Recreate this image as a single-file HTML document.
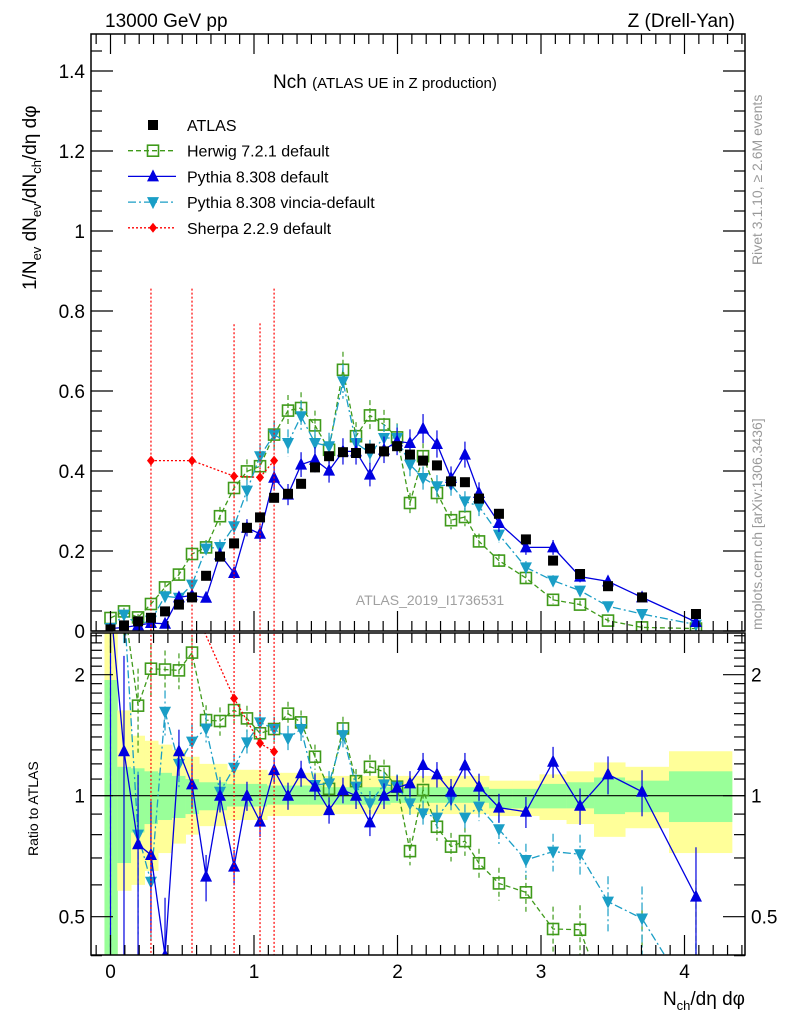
<!DOCTYPE html>
<html><head><meta charset="utf-8"><style>
html,body{margin:0;padding:0;background:#fff;width:786px;height:1024px;overflow:hidden;}
svg{display:block;font-family:"Liberation Sans",sans-serif;}
</style></head><body>
<svg id="chart" width="786" height="1024" viewBox="0 0 786 1024" xmlns="http://www.w3.org/2000/svg">
<defs>
<clipPath id="clipMain"><rect x="91" y="34" width="654" height="597"/></clipPath>
<clipPath id="clipRatio"><rect x="91" y="633" width="654" height="322"/></clipPath>
</defs>
<rect x="0" y="0" width="786" height="1024" fill="#fff"/>
<g id="ratioBands" clip-path="url(#clipRatio)"></g>
<g id="mainLayer" clip-path="url(#clipMain)"></g>
<g id="ratioLayer" clip-path="url(#clipRatio)"></g>
<g id="axes"></g>
<text x="105" y="27" font-size="19">13000 GeV pp</text>
<text x="735" y="27" font-size="19" text-anchor="end">Z (Drell-Yan)</text>
<text x="273" y="88" font-size="19">Nch <tspan font-size="15">(ATLAS UE in Z production)</tspan></text>
<text x="430" y="605" font-size="14" fill="#a0a0a0" text-anchor="middle">ATLAS_2019_I1736531</text>
<text transform="translate(762,265) rotate(-90)" font-size="14" fill="#999">Rivet 3.1.10, ≥ 2.6M events</text>
<text transform="translate(762,630) rotate(-90)" font-size="14" fill="#999">mcplots.cern.ch [arXiv:1306.3436]</text>
<text transform="translate(36,290) rotate(-90)" font-size="19">1/N<tspan font-size="13" dy="5">ev</tspan><tspan dy="-5"> dN</tspan><tspan font-size="13" dy="5">ev</tspan><tspan dy="-5">/dN</tspan><tspan font-size="13" dy="5">ch</tspan><tspan dy="-5">/dη dφ</tspan></text>
<text transform="translate(38,856) rotate(-90)" font-size="14">Ratio to ATLAS</text>
<text x="745" y="1005" font-size="19" text-anchor="end">N<tspan font-size="13" dy="5">ch</tspan><tspan dy="-5">/dη dφ</tspan></text>
<g id="legend"></g>
</svg>
<script>
// ---- data ----
var xVals = [0.0,0.094,0.192,0.282,0.38,0.477,0.568,0.666,0.763,0.861,0.951,1.042,1.14,1.237,1.328,1.425,1.523,1.62,1.711,1.808,1.906,1.997,2.087,2.178,2.275,2.373,2.47,2.568,2.707,2.895,3.084,3.272,3.467,3.704,4.08];
var atlasVals = [0.004,0.014,0.024,0.033,0.049,0.066,0.084,0.138,0.186,0.219,0.258,0.284,0.333,0.343,0.368,0.409,0.437,0.447,0.445,0.456,0.449,0.462,0.441,0.426,0.414,0.374,0.372,0.331,0.293,0.229,0.176,0.1425,0.112,0.084,0.0425];
var herwigVals = [0.0325,0.049,0.034,0.0675,0.109,0.141,0.1925,0.209,0.287,0.3575,0.399,0.412,0.491,0.551,0.5575,0.514,0.453,0.653,0.487,0.539,0.516,0.484,0.32,0.437,0.345,0.277,0.285,0.224,0.176,0.1325,0.078,0.066,0.026,0.009,0.006];
var pythiaVals = [0.006,0.009,0.014,0.02,0.018,0.084,0.089,0.083,0.191,0.145,0.258,0.243,0.383,0.341,0.416,0.428,0.401,0.449,0.449,0.391,0.453,0.474,0.47,0.506,0.4675,0.3825,0.441,0.345,0.27,0.209,0.209,0.136,0.124,0.084,0.0225];
var vinciaVals = [0.0075,0.041,0.016,0.026,0.087,0.083,0.116,0.206,0.21,0.262,0.351,0.437,0.491,0.47,0.537,0.47,0.462,0.624,0.47,0.445,0.4825,0.4825,0.416,0.3825,0.362,0.366,0.324,0.312,0.241,0.159,0.126,0.101,0.062,0.0425,0.016];
var sherpaX = [0.282,0.568,0.861,1.042,1.14];
var sherpaVals = [0.426,0.426,0.387,0.384,0.426];
var sherpaErrUp = [0.43,0.43,0.38,0.385,0.43];
var herwigRatio = [3,3,1.675,2.07,2.06,2.05,2.27,1.542,1.534,1.633,1.557,1.43,1.465,1.6,1.522,1.25,1.04,1.47,1.087,1.18,1.147,1.053,0.728,1.033,0.837,0.747,0.771,0.679,0.605,0.575,0.466,0.464,0.3,0.3,0.3];
var pythiaRatio = [3,1.29,0.757,0.712,0.4,1.29,1.067,0.629,1.0,0.666,1.0,0.862,1.158,1.0,1.137,1.053,0.921,1.033,1.0,0.858,1.0,1.047,1.073,1.192,1.13,1.023,1.19,1.053,0.934,0.912,1.215,0.944,1.13,1.023,0.561];
var vinciaRatio = [3,3,0.8,0.611,1.618,1.2,1.363,1.47,1.023,1.174,1.357,1.522,1.465,1.389,1.465,1.063,1.073,1.415,1.053,0.957,1.067,1.053,0.957,0.904,0.882,0.981,0.882,0.939,0.825,0.692,0.726,0.715,0.545,0.495,0.3];
var sherpaRatio = [3,3,1.746,1.35,1.287];
var bandYhi = [3,1.63,1.41,1.37,1.34,1.3,1.25,1.2,1.2,1.16,1.16,1.16,1.14,1.14,1.14,1.14,1.12,1.12,1.12,1.12,1.12,1.12,1.12,1.12,1.12,1.12,1.12,1.12,1.09,1.09,1.13,1.15,1.21,1.18,1.29];
var bandYlo = [0.3,0.58,0.6,0.65,0.72,0.76,0.8,0.84,0.84,0.87,0.87,0.87,0.89,0.89,0.89,0.89,0.9,0.9,0.9,0.9,0.9,0.9,0.9,0.9,0.9,0.9,0.9,0.9,0.89,0.89,0.87,0.85,0.79,0.83,0.72];
var bandGhi = [1.94,1.18,1.17,1.15,1.14,1.12,1.1,1.08,1.08,1.07,1.07,1.07,1.06,1.06,1.06,1.06,1.05,1.05,1.05,1.05,1.05,1.05,1.05,1.05,1.05,1.05,1.05,1.05,1.04,1.04,1.07,1.08,1.11,1.09,1.15];
var bandGlo = [0.3,0.68,0.81,0.85,0.87,0.88,0.9,0.92,0.92,0.94,0.94,0.94,0.95,0.95,0.95,0.95,0.95,0.95,0.95,0.95,0.95,0.96,0.96,0.96,0.96,0.96,0.96,0.96,0.93,0.93,0.93,0.93,0.9,0.91,0.86];
var errAbs = 0.006, errRel = 0.06;
var yTicks = [0,0.2,0.4,0.6,0.8,1,1.2,1.4];
var yTickLabels = ["0","0.2","0.4","0.6","0.8","1","1.2","1.4"];
var xTicks = [0,1,2,3,4];
var xTickLabels = ["0","1","2","3","4"];
var rTicks = [0.5,1,2];
var rTickLabels = ["0.5","1","2"];

// ---- scales ----
var L=91, R=745, MT=34, MB=631, RT=633, RB=955;
function X(v){return 110.5+143.5*v;}
function Y(v){return 631-400*v;}
function RY(r){return 795.7-121*Math.log2(r);}
var NS="http://www.w3.org/2000/svg";
function mk(tag,attrs,parent){var e=document.createElementNS(NS,tag);for(var k in attrs)e.setAttribute(k,attrs[k]);parent.appendChild(e);return e;}
var mainL=document.getElementById('mainLayer'), ratL=document.getElementById('ratioLayer'), bandL=document.getElementById('ratioBands'), axes=document.getElementById('axes'), leg=document.getElementById('legend');

function edges(i){var lo=i==0?-0.042:(xVals[i-1]+xVals[i])/2;var hi=i==xVals.length-1?4.33:(xVals[i]+xVals[i+1])/2;return [lo,hi];}
for(var i=0;i<xVals.length;i++){var e=edges(i);
 var y1=mk('rect',{x:X(e[0]),y:RY(bandYhi[i]),width:X(e[1])-X(e[0])+0.5,height:RY(bandYlo[i])-RY(bandYhi[i]),fill:'#ffff99'},bandL);
 
 
 var g1=mk('rect',{x:X(e[0]),y:RY(bandGhi[i]),width:X(e[1])-X(e[0])+0.5,height:RY(bandGlo[i])-RY(bandGhi[i]),fill:'#99ff99'},bandL);
 
 
}
var ref=mk('line',{x1:L,x2:R,y1:RY(1),y2:RY(1),stroke:'#000','stroke-width':1.2},bandL);



function marker(type,cx,cy,color,parent){
 var m;
 if(type=='sq') m=mk('rect',{x:cx-5,y:cy-5,width:10,height:10,fill:'#000'},parent);
 else if(type=='osq') m=mk('rect',{x:cx-5.5,y:cy-5.5,width:11,height:11,fill:'none',stroke:color,'stroke-width':1.6},parent);
 else if(type=='up') m=mk('polygon',{points:(cx-6)+','+(cy+5)+' '+(cx+6)+','+(cy+5)+' '+cx+','+(cy-7),fill:color},parent);
 else if(type=='down') m=mk('polygon',{points:(cx-6)+','+(cy-5)+' '+(cx+6)+','+(cy-5)+' '+cx+','+(cy+7),fill:color},parent);
 else m=mk('polygon',{points:cx+','+(cy-5)+' '+(cx+4)+','+cy+' '+cx+','+(cy+5)+' '+(cx-4)+','+cy,fill:color},parent);
 return m;
}
function series(name,xs,vals,color,dash,type,errUp,ratio){
 var pts=xs.map(function(x,i){return X(x)+','+Y(vals[i]);}).join(' ');
 var pl=mk('polyline',{points:pts,fill:'none',stroke:color,'stroke-width':1.3,'stroke-dasharray':dash},mainL);
 
 
 for(var i=0;i<xs.length;i++){
  var cx=X(xs[i]),cy=Y(vals[i]);
  var eu=errUp?errUp[i]:errAbs+errRel*vals[i];
  var ed=errUp?vals[i]:eu;
  var eb=mk('line',{x1:cx,x2:cx,y1:Y(vals[i]+eu),y2:Y(Math.max(0,vals[i]-ed)),stroke:color,'stroke-width':1.2,'stroke-dasharray':dash},mainL);
  
  
  var m=marker(type,cx,cy,color,mainL);
  
  
 }
 var rp=xs.map(function(x,i){return X(x)+','+RY(ratio[i]);}).join(' ');
 var rl=mk('polyline',{points:rp,fill:'none',stroke:color,'stroke-width':1.3,'stroke-dasharray':dash},ratL);
 
 
 for(var i=0;i<xs.length;i++){
  var cx=X(xs[i]),r=ratio[i];
  var eu=errUp?errUp[i]:errAbs+errRel*vals[i];
  var de=Math.min(3,r*eu/Math.max(vals[i],1e-3));
  var hi=r+de, lo=Math.max(0.01,r-de);
  var reb=mk('line',{x1:cx,x2:cx,y1:RY(hi),y2:RY(lo),stroke:color,'stroke-width':1.2,'stroke-dasharray':dash},ratL);
  
  
  var rm=marker(type,cx,RY(r),color,ratL);
  
  
 }
}
series('herwig',xVals,herwigVals,'#3f9a1a','5,3','osq',null,herwigRatio);
series('vincia',xVals,vinciaVals,'#1a9ec6','8,3,2,3','down',null,vinciaRatio);
series('pythia',xVals,pythiaVals,'#0000e0','','up',null,pythiaRatio);
series('sherpa',sherpaX,sherpaVals,'#ff0000','2,2','dia',sherpaErrUp,sherpaRatio);
for(var i=0;i<xVals.length;i++){
 var am=marker('sq',X(xVals[i]),Y(atlasVals[i]),'#000',mainL);
 
 
}

[[MT,MB],[RT,RB]].forEach(function(p){
 var fr=mk('rect',{x:L,y:p[0],width:R-L,height:p[1]-p[0],fill:'none',stroke:'#000','stroke-width':1.5},axes);
 
 
});
function tk(x1,y1,x2,y2){var t=mk('line',{x1:x1,y1:y1,x2:x2,y2:y2,stroke:'#000','stroke-width':1.2},axes);}
for(var v=0;v<=1.49;v+=0.05){var y=Y(v);var maj=Math.abs(v*5-Math.round(v*5))<0.01;var len=maj?22:11;tk(L,y,L+len,y);tk(R,y,R-len,y);}
yTicks.forEach(function(v,i){var t=mk('text',{x:L-6,y:Y(v)+7,'font-size':19,'text-anchor':'end'},axes);t.textContent=yTickLabels[i];});
for(var v=-0.1;v<=4.41;v+=0.1){var x=X(v);if(x<L||x>R)continue;var maj=Math.abs(v-Math.round(v))<0.01;var len=maj?20:10;
 tk(x,MB,x,MB-len);tk(x,MT,x,MT+len);tk(x,RB,x,RB-len);tk(x,RT,x,RT+len);}
xTicks.forEach(function(v,i){var t=mk('text',{x:X(v),y:978,'font-size':19,'text-anchor':'middle'},axes);t.textContent=xTickLabels[i];});
[0.4,0.5,0.6,0.7,0.8,0.9,1,1.1,1.2,1.3,1.4,1.5,1.6,1.7,1.8,1.9,2,2.1,2.2,2.3,2.4,2.5].forEach(function(r){var y=RY(r);var maj=(r==0.5||r==1||r==2);var len=maj?22:11;tk(L,y,L+len,y);tk(R,y,R-len,y);});
rTicks.forEach(function(r,i){
 var t=mk('text',{x:L-6,y:RY(r)+7,'font-size':19,'text-anchor':'end'},axes);t.textContent=rTickLabels[i];
 var t2=mk('text',{x:R+6,y:RY(r)+7,'font-size':19},axes);t2.textContent=rTickLabels[i];
});

var legNames=['ATLAS','Herwig 7.2.1 default','Pythia 8.308 default','Pythia 8.308 vincia-default','Sherpa 2.2.9 default'];
var legColors=['#000','#3f9a1a','#0000e0','#1a9ec6','#ff0000'];
var legDash=['','5,3','','8,3,2,3','2,2'];
var legType=['sq','osq','up','down','dia'];
legNames.forEach(function(n,i){
 var y=125+i*25.7;
 var g=mk('g',{},leg);
 
 
 if(i>0){mk('line',{x1:128,x2:176,y1:y,y2:y,stroke:legColors[i],'stroke-width':1.3,'stroke-dasharray':legDash[i]},g);}
 marker(legType[i],153,y,legColors[i],g);
 var t=mk('text',{x:187,y:y+6,'font-size':16},g);t.textContent=n;
});
</script>
</body></html>
